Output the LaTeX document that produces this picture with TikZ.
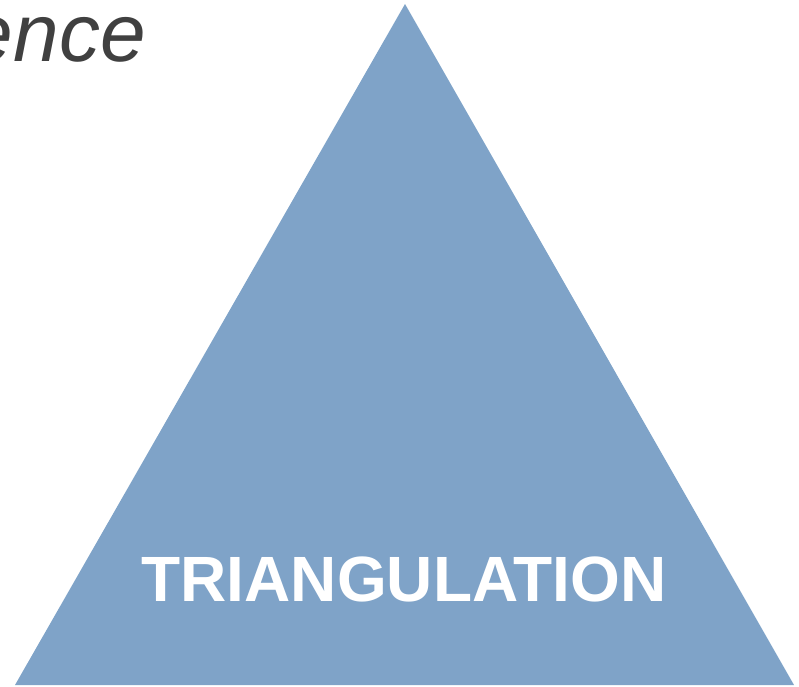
\documentclass[tikz,border=0pt]{standalone}
\usepackage{fontspec}
\setmainfont{Liberation Sans}
\usepackage{xcolor}
\usepackage{tikz}
\usetikzlibrary{arrows.meta,shapes}
\definecolor{triblue}{HTML}{7FA3C8}
\definecolor{wordgray}{HTML}{404040}

\begin{document}
\begin{tikzpicture}[x=1pt,y=-1pt]
\useasboundingbox(0,0)rectangle(799,686);
\clip(0,0)rectangle(799,686);
\fill[triblue](405,4)--(794,685)--(15,685)--cycle;
\node[anchor=base east,inner sep=0pt,text=wordgray,font=\fontsize{82}{88}\selectfont\itshape](ence)at(146,61){ence};
\node[anchor=base,inner sep=0pt,text=white,font=\fontsize{64}{70}\selectfont\bfseries](tri)at(404,601){TRIANGULATION};
\end{tikzpicture}
\end{document}
